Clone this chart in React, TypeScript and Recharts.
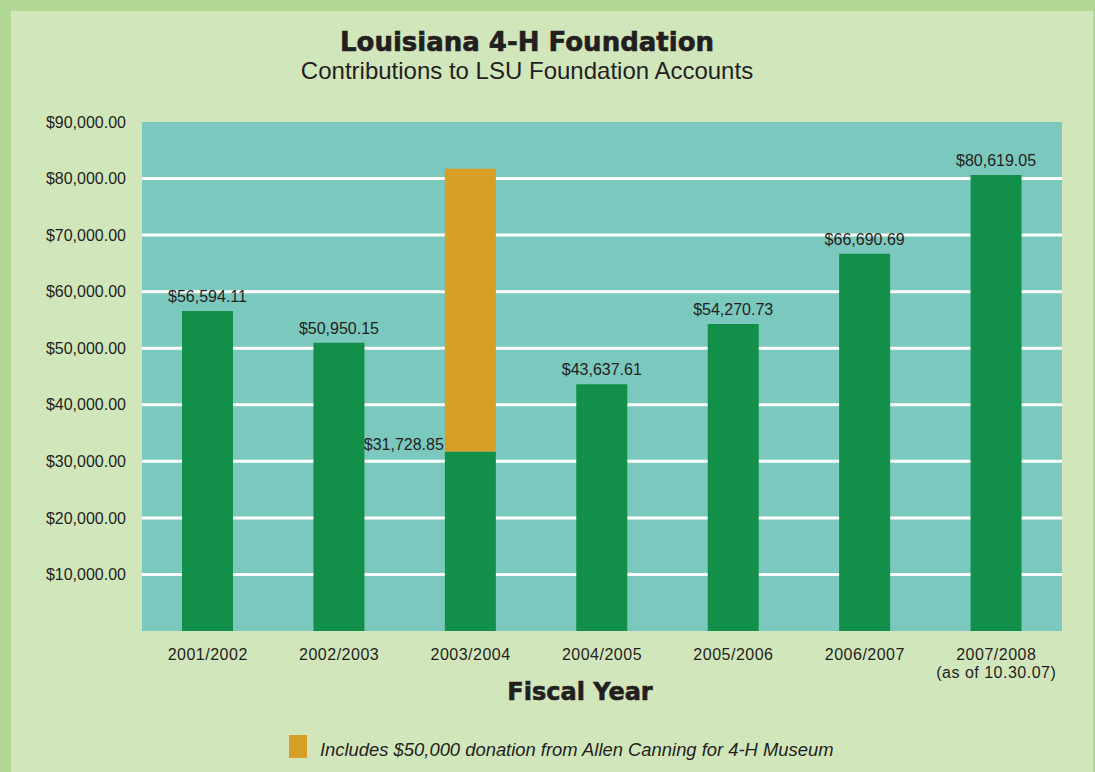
import { BarChart, Bar, XAxis, YAxis, CartesianGrid, LabelList } from 'recharts';

// fiscal years and contributions
const years = ['2001/2002', '2002/2003', '2003/2004', '2004/2005', '2005/2006', '2006/2007', '2007/2008'];
const yearNotes = ['', '', '', '', '', '', '(as of 10.30.07)'];
const baseAmounts = [56594.11, 50950.15, 31728.85, 43637.61, 54270.73, 66690.69, 80619.05];
const museumAmounts = [0, 0, 50000, 0, 0, 0, 0];
const yTicks = [10000, 20000, 30000, 40000, 50000, 60000, 70000, 80000, 90000];
const gridValues = [10000, 20000, 30000, 40000, 50000, 60000, 70000, 80000];

const GREEN = '#12904a';
const ORANGE = '#d89f28';
const TEAL = '#7bc8be';
const PANEL = '#d2e6bc';
const BORDER = '#b2d896';
const INK = '#231f20';

const data = years.map((year, i) => ({
  year,
  base: baseAmounts[i],
  museum: museumAmounts[i],
}));

const money = (v: number) =>
  '$' + v.toLocaleString('en-US', { minimumFractionDigits: 2, maximumFractionDigits: 2 });

const sans = '"Liberation Sans", Arial, sans-serif';
const heavy = '"DejaVu Sans", sans-serif';

function XTick(props: any) {
  const { x, y, payload, index } = props;
  return (
    <g>
      <text x={x} y={y + 29} textAnchor="middle" fontSize={16} letterSpacing={0.5} fill={INK} fontFamily={sans}>
        {payload.value}
      </text>
      {yearNotes[index] ? (
        <text x={x} y={y + 47} textAnchor="middle" fontSize={16} letterSpacing={0.5} fill={INK} fontFamily={sans}>
          {yearNotes[index]}
        </text>
      ) : null}
    </g>
  );
}

function baseLabel(props: any) {
  const { x, y, width, index } = props;
  if (museumAmounts[index] > 0) {
    // sits to the left of the green part of the stacked bar
    return (
      <text x={x - 1} y={y - 2} textAnchor="end" fontSize={16} fill={INK} fontFamily={sans}>
        {money(baseAmounts[index])}
      </text>
    );
  }
  return (
    <text x={x + width / 2} y={y - 9} textAnchor="middle" fontSize={16} fill={INK} fontFamily={sans}>
      {money(baseAmounts[index])}
    </text>
  );
}

function museumLabel(props: any) {
  const { x, y, width, index } = props;
  if (!(museumAmounts[index] > 0)) return null;
  return (
    <text x={x + width / 2} y={y - 9} textAnchor="middle" fontSize={16} fill={INK} fontFamily={sans}>
      {money(baseAmounts[index] + museumAmounts[index])}
    </text>
  );
}

export default function App() {
  return (
    <div style={{ position: 'absolute', left: 0, top: 0, width: 1095, height: 772, background: BORDER, overflow: 'hidden' }}>
      <div style={{ position: 'absolute', left: 11, top: 11, width: 1082, height: 761, background: PANEL }} />

      <div style={{ position: 'absolute', left: 0, top: 27, width: 1054, textAlign: 'center', fontFamily: heavy, fontWeight: 'bold', fontSize: 26, lineHeight: '30px', color: INK, WebkitTextStroke: '0.6px ' + INK }}>
        Louisiana 4-H Foundation
      </div>
      <div style={{ position: 'absolute', left: 0, top: 56, width: 1054, textAlign: 'center', fontFamily: sans, fontSize: 24, lineHeight: '30px', color: INK }}>
        Contributions to LSU Foundation Accounts
      </div>

      <div style={{ position: 'absolute', left: 0, top: 0 }}>
        <BarChart width={1095} height={772} data={data} margin={{ top: 122, right: 33, bottom: 111, left: 0 }}>
          <CartesianGrid vertical={false} stroke="#ffffff" strokeWidth={3} fill={TEAL} fillOpacity={1} horizontalValues={gridValues} />
          <XAxis dataKey="year" height={30} axisLine={false} tickLine={false} tickSize={0} tickMargin={0} interval={0} tick={<XTick />} />
          <YAxis
            width={142}
            domain={[0, 90000]}
            ticks={yTicks}
            axisLine={false}
            tickLine={false}
            tickSize={0}
            tickMargin={16}
            tickFormatter={(v: number) => money(v)}
            tick={{ fill: INK, fontSize: 16, fontFamily: sans }}
          />
          <Bar dataKey="base" stackId="a" fill={GREEN} barSize={51} isAnimationActive={false}>
            <LabelList dataKey="base" content={baseLabel} />
          </Bar>
          <Bar dataKey="museum" stackId="a" fill={ORANGE} barSize={51} isAnimationActive={false}>
            <LabelList dataKey="museum" content={museumLabel} />
          </Bar>
        </BarChart>
      </div>

      <div style={{ position: 'absolute', left: 480, top: 677, width: 200, textAlign: 'center', fontFamily: heavy, fontWeight: 'bold', fontSize: 24, lineHeight: '30px', color: INK, WebkitTextStroke: '0.6px ' + INK }}>
        Fiscal Year
      </div>

      <div style={{ position: 'absolute', left: 289, top: 735, width: 18, height: 23, background: ORANGE }} />
      <div style={{ position: 'absolute', left: 320, top: 737, fontFamily: sans, fontStyle: 'italic', fontSize: 18.4, lineHeight: '26px', color: INK, whiteSpace: 'nowrap' }}>
        Includes $50,000 donation from Allen Canning for 4-H Museum
      </div>
    </div>
  );
}
